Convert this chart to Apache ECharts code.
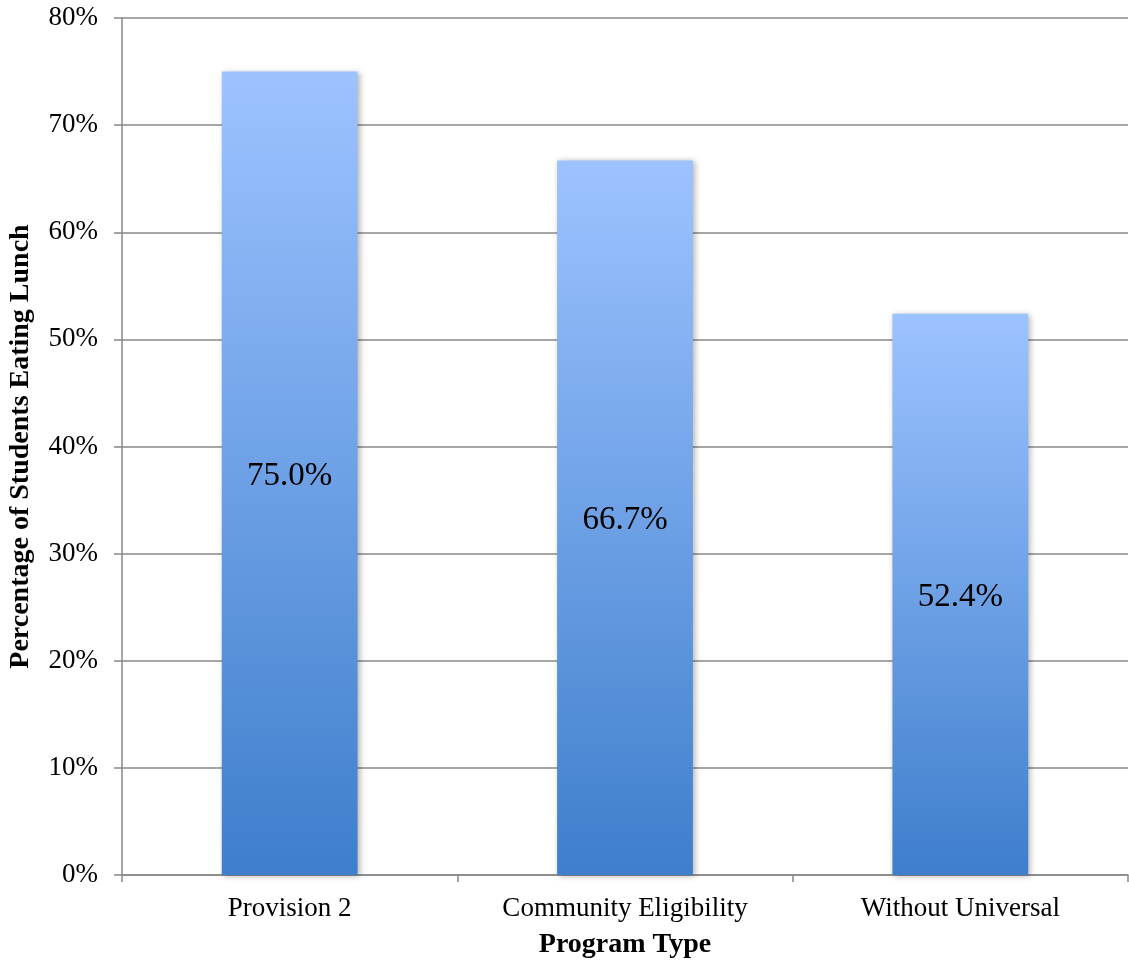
<!DOCTYPE html>
<html>
<head>
<meta charset="utf-8">
<script src="https://cdn.jsdelivr.net/npm/echarts@6/dist/echarts.min.js"></script>
<style>
html,body{margin:0;padding:0;background:#fff;}
#chart{width:1129px;height:964px;}
</style>
</head>
<body>
<div id="chart"></div>
<script>
const categories = ['Provision 2', 'Community Eligibility', 'Without Universal'];
const values = [75.0, 66.7, 52.4];
const yTicks = [0, 10, 20, 30, 40, 50, 60, 70, 80];

const chart = echarts.init(document.getElementById('chart'));
const font = 'Liberation Serif';
chart.setOption({
  backgroundColor: '#ffffff',
  animation: false,
  grid: { left: 122, right: 1, top: 18, bottom: 89, containLabel: false, outerBoundsMode: 'none' },
  xAxis: {
    type: 'category',
    data: categories,
    name: 'Program Type',
    nameLocation: 'middle',
    nameGap: 56,
    nameMoveOverlap: false,
    nameTextStyle: { fontFamily: font, fontSize: 28, fontWeight: 'bold', color: '#000' },
    axisLine: { lineStyle: { color: '#888888', width: 1.5 } },
    axisTick: { show: true, length: 7, lineStyle: { color: '#888888', width: 1.5 } },
    axisLabel: { fontFamily: font, fontSize: 27, color: '#000', margin: 20 }
  },
  yAxis: {
    type: 'value',
    min: yTicks[0],
    max: yTicks[yTicks.length - 1],
    interval: 10,
    name: 'Percentage of Students Eating Lunch',
    nameLocation: 'middle',
    nameGap: 87,
    nameMoveOverlap: false,
    nameTextStyle: { fontFamily: font, fontSize: 28, fontWeight: 'bold', color: '#000' },
    axisLine: { show: true, lineStyle: { color: '#888888', width: 1.5 } },
    axisTick: { show: true, length: 8, lineStyle: { color: '#888888', width: 1.5 } },
    axisLabel: { fontFamily: font, fontSize: 27, color: '#000', margin: 24, formatter: v => v + '%' },
    splitLine: { show: true, lineStyle: { color: '#888888', width: 1.5 } }
  },
  series: [{
    type: 'bar',
    data: values,
    barWidth: '40.5%',
    itemStyle: {
      color: new echarts.graphic.LinearGradient(0, 0, 0, 1, [
        { offset: 0, color: '#9DC3FF' },
        { offset: 1, color: '#3E7ECC' }
      ]),
      shadowColor: 'rgba(0,0,0,0.3)',
      shadowBlur: 6,
      shadowOffsetX: 2,
      shadowOffsetY: 1
    },
    label: {
      show: true,
      position: 'inside',
      offset: [0, 3],
      fontFamily: font,
      fontSize: 33,
      color: '#000',
      formatter: p => p.value.toFixed(1) + '%'
    }
  }]
});
</script>
</body>
</html>
